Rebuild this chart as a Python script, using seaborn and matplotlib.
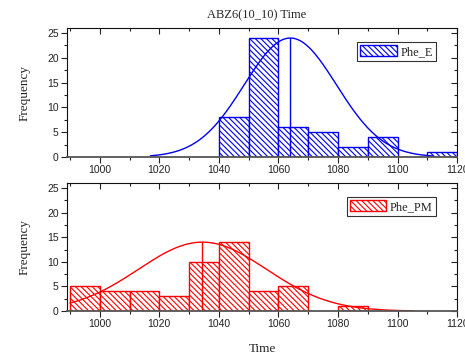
import numpy as np
import pandas as pd
import seaborn as sns
import matplotlib
matplotlib.use("Agg")
import matplotlib.pyplot as plt
from matplotlib.patches import Patch
from matplotlib.ticker import MultipleLocator

# ---- data ----
bin_edges = [990, 1000, 1010, 1020, 1030, 1040, 1050, 1060, 1070, 1080, 1090, 1100, 1110, 1120]
counts_e = [0, 0, 0, 0, 0, 8, 24, 6, 5, 2, 4, 0, 1]
counts_pm = [5, 4, 4, 3, 10, 14, 4, 5, 0, 1, 0, 0, 0]
# normal-curve overlay (visual estimates)
fit_e = dict(mean=1064, sigma=15.5, peak=24, lo=1017, hi=1112)
fit_pm = dict(mean=1034.5, sigma=21.5, peak=14, lo=990, hi=1105)
title = "ABZ6(10_10) Time"
xticks = [1000, 1020, 1040, 1060, 1080, 1100, 1120]
yticks = [0, 5, 10, 15, 20, 25]

sns.set_style("ticks")
plt.rcParams["font.family"] = ["Liberation Sans", "DejaVu Sans"]
plt.rcParams["hatch.linewidth"] = 0.8

fig = plt.figure(figsize=(4.65, 3.56), dpi=100)
ax1 = fig.add_axes([0.144, 0.559, 0.839, 0.362])
ax2 = fig.add_axes([0.144, 0.126, 0.839, 0.360])

serif = ["Liberation Serif", "DejaVu Serif"]
centers = [(a + b) / 2 for a, b in zip(bin_edges[:-1], bin_edges[1:])]
HATCH = "\\" * 6


def panel(ax, counts, fit, color, label):
    df = pd.DataFrame({"x": centers, "w": counts})
    sns.histplot(data=df, x="x", weights="w", bins=bin_edges, ax=ax,
                 stat="count", element="bars", fill=True,
                 facecolor="white", edgecolor=color, linewidth=1.0, alpha=1)
    for p in ax.patches:
        p.set_hatch(HATCH)
        p.set_edgecolor(color)
        p.set_facecolor("white")
        if p.get_height() == 0:
            p.set_visible(False)
    xs = np.linspace(fit["lo"], fit["hi"], 300)
    ys = fit["peak"] * np.exp(-0.5 * ((xs - fit["mean"]) / fit["sigma"]) ** 2)
    sns.lineplot(x=xs, y=ys, ax=ax, color=color, linewidth=1.0)
    ax.plot([fit["mean"], fit["mean"]], [0, fit["peak"]], color=color, linewidth=1.0)

    ax.set_xlim(989, 1120)
    ax.set_ylim(0, 26)
    ax.set_xticks(xticks)
    ax.set_yticks(yticks)
    ax.xaxis.set_minor_locator(MultipleLocator(10))
    ax.yaxis.set_minor_locator(MultipleLocator(2.5))
    ax.tick_params(which="both", top=True, right=True, labelsize=7.5, colors="#222222")
    ax.tick_params(axis="both", which="major", direction="out", length=4, width=0.8, pad=2)
    ax.tick_params(axis="both", which="minor", direction="out", length=2.5, width=0.8)
    # top/right ticks inward
    for t in ax.xaxis.get_major_ticks() + ax.xaxis.get_minor_ticks():
        t.tick2line.set_marker(3)
    for t in ax.yaxis.get_major_ticks() + ax.yaxis.get_minor_ticks():
        t.tick2line.set_marker(0)
    for s in ax.spines.values():
        s.set_linewidth(0.8)
        s.set_color("#111111")
    ax.spines["bottom"].set_color("#555555")
    ax.spines["bottom"].set_linewidth(1.3)
    ax.set_ylabel("Frequency", family=serif, fontsize=9.5, labelpad=12)
    ax.set_xlabel("")
    h = Patch(facecolor="white", edgecolor=color, hatch=HATCH, linewidth=1.0)
    leg = ax.legend([h], [label], loc="upper right", bbox_to_anchor=(0.946, 0.893),
                    prop={"family": serif, "size": 9}, frameon=True, fancybox=False,
                    handlelength=2.9, handleheight=1.0, borderpad=0.25,
                    handletextpad=0.3, borderaxespad=0)
    leg.get_frame().set_edgecolor("black")
    leg.get_frame().set_linewidth(0.8)


panel(ax1, counts_e, fit_e, "#0000ee", "Phe_E")
panel(ax2, counts_pm, fit_pm, "#ff0000", "Phe_PM")

ax2.set_xlabel("Time", family=serif, fontsize=9.5, labelpad=10)
fig.text(0.552, 0.957, title, family=serif, fontsize=9, ha="center", va="center")

fig.savefig("out.png", dpi=100)
